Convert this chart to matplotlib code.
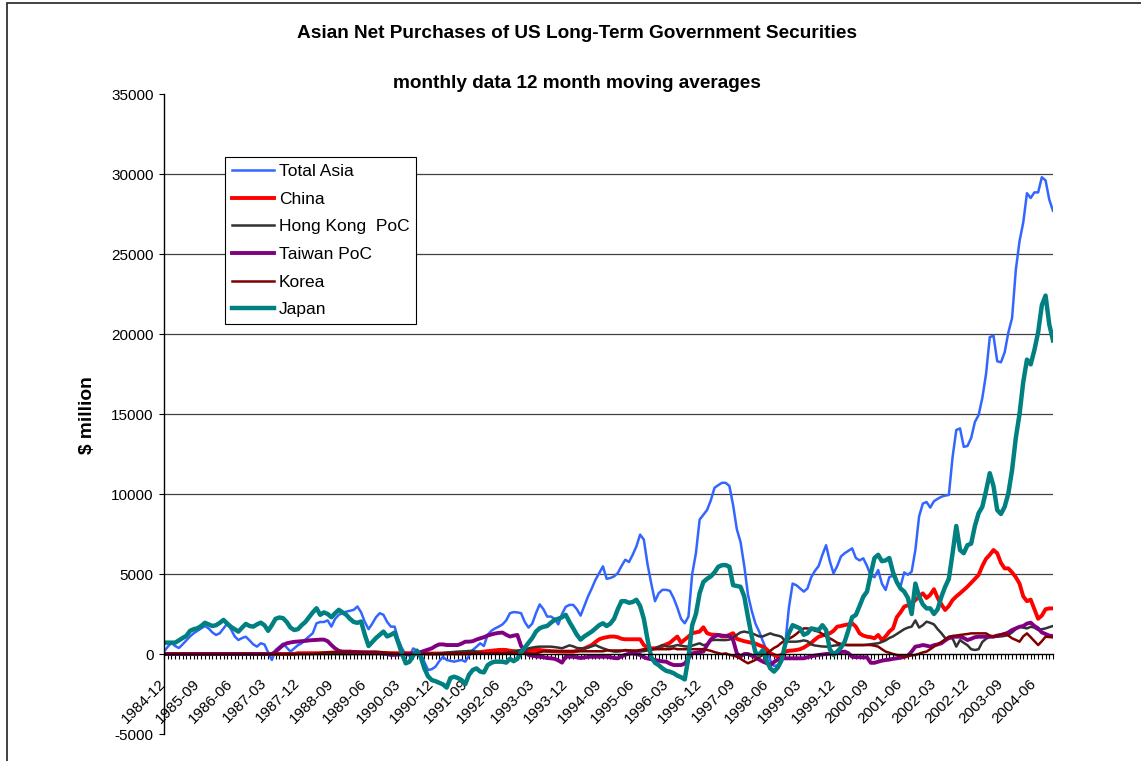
import numpy as np
import pandas as pd
import matplotlib
matplotlib.use("Agg")
import matplotlib.pyplot as plt
from matplotlib.patches import Rectangle

plt.rcParams['font.family'] = ['Liberation Sans', 'DejaVu Sans']

# monthly categories, 1984-12 .. 2004-11
months = [p.strftime('%Y-%m') for p in pd.period_range('1984-12', periods=240, freq='M')]

# 12 month moving averages, $ million (one row = 12 months starting in December)
total_asia = [
    150, 450, 690, 500, 375, 600, 850, 1100, 1300, 1450, 1600, 1750,
    1600, 1350, 1190, 1300, 1600, 1900, 1550, 1100, 875, 1000, 1080, 850,
    600, 460, 670, 600, 100, -375, 250, 450, 650, 400, 150, 350,
    550, 670, 900, 1100, 1300, 1920, 2000, 2000, 2100, 1710, 2200, 2450,
    2550, 2650, 2700, 2760, 2970, 2600, 2000, 1550, 1900, 2300, 2550, 2450,
    2000, 1710, 1710, 900, 350, -50, -100, 350, 200, 40, -500, -1000,
    -950, -790, -450, -170, -375, -430, -480, -420, -375, -480, -100, 250,
    450, 670, 500, 1200, 1450, 1600, 1710, 1850, 2100, 2550, 2620, 2600,
    2550, 2000, 1650, 1900, 2550, 3100, 2800, 2340, 2340, 2200, 1850, 2500,
    2950, 3070, 3070, 2800, 2400, 3000, 3600, 4100, 4640, 5050, 5480, 4700,
    4750, 4850, 5060, 5500, 5890, 5750, 6200, 6730, 7460, 7150, 5600, 4400,
    3300, 3800, 4010, 4010, 3950, 3500, 2900, 2200, 1920, 2340, 5000, 6300,
    8400, 8700, 9000, 9600, 10390, 10550, 10700, 10700, 10500, 9300, 7800, 7000,
    5500, 3700, 2700, 1900, 1400, 800, 250, -400, -750, -700, -370, 600,
    2900, 4400, 4300, 4100, 3900, 4100, 4800, 5200, 5500, 6200, 6800, 5800,
    5040, 5500, 6100, 6300, 6450, 6600, 6000, 5850, 5980, 5500, 4900, 4800,
    5250, 4400, 4000, 4800, 4900, 4500, 4210, 5100, 4950, 5150, 6500, 8600,
    9400, 9500, 9150, 9550, 9700, 9830, 9900, 9940, 12300, 14000, 14100, 12950,
    13000, 13500, 14500, 14930, 16000, 17500, 19800, 19900, 18300, 18230, 18850, 20100,
    21000, 24000, 25800, 26970, 28800, 28500, 28850, 28850, 29800, 29600, 28400, 27700,
]

china = [
    0, 0, 0, 0, 0, 0, 0, 0, 0, 0, 0, 0,
    0, 0, 0, 0, 0, 0, 0, 0, 0, 0, 0, 0,
    0, 0, 0, 0, 0, 0, 0, 0, 0, 0, 0, 0,
    50, 50, 50, 50, 50, 50, 50, 50, 50, 50, 50, 50,
    50, 50, 50, 50, 50, 50, 50, 50, 50, 50, 50, 50,
    50, 50, 50, 50, 50, 50, 50, 50, 50, 50, 50, 30,
    30, 30, 30, 30, 30, 30, 30, 30, 30, 30, 30, 60,
    100, 120, 150, 180, 200, 230, 250, 260, 250, 200, 180, 160,
    150, 180, 220, 250, 250, 250, 220, 200, 180, 170, 160, 150,
    150, 150, 150, 200, 250, 350, 450, 560, 750, 920, 1000, 1050,
    1090, 1090, 1050, 950, 920, 920, 920, 920, 920, 560, 400, 355,
    355, 400, 500, 600, 700, 900, 1090, 700, 900, 1090, 1300, 1350,
    1400, 1670, 1300, 1220, 1200, 1190, 1100, 1100, 1200, 1300, 950, 870,
    800, 750, 700, 650, 550, 460, 300, 50, -60, -170, -50, 150,
    200, 220, 250, 300, 400, 550, 700, 900, 1080, 1150, 1250, 1290,
    1450, 1710, 1750, 1810, 1850, 1920, 1710, 1290, 1150, 1080, 1050, 980,
    1190, 870, 1100, 1400, 1600, 2300, 2600, 2960, 3050, 3170, 3370, 3600,
    3790, 3500, 3700, 4050, 3500, 3100, 2750, 3000, 3370, 3600, 3790, 4000,
    4210, 4450, 4700, 4940, 5500, 5950, 6200, 6500, 6300, 5700, 5350, 5350,
    5100, 4800, 4400, 3600, 3300, 3400, 2800, 2200, 2400, 2800, 2850, 2850,
]

hong_kong = [
    0, 0, 0, 0, 0, 0, 0, 0, 0, 0, 0, 0,
    0, 0, 0, 0, 0, 0, 0, 0, 0, 0, 0, 0,
    0, 0, 0, 0, 0, 0, 0, 0, 0, 0, 0, 0,
    0, 0, 0, 0, 0, 0, 0, 0, 0, 0, 0, 0,
    0, 0, 0, 0, 0, 0, 0, 0, 0, 0, 0, 0,
    0, 20, 20, 20, 20, 20, 20, 20, 20, 20, 20, 20,
    20, 20, 40, 60, 90, 110, 130, 150, 160, 170, 190, 200,
    150, 100, 50, 40, 50, 60, 70, 80, 80, 110, 150, 200,
    250, 300, 355, 400, 440, 460, 460, 460, 460, 430, 400, 355,
    450, 540, 480, 380, 355, 355, 400, 480, 560, 450, 355, 280,
    200, 150, 150, 180, 250, 220, 180, 160, 150, 180, 220, 250,
    350, 450, 560, 480, 460, 500, 560, 520, 480, 460, 520, 600,
    670, 550, 600, 850, 880, 880, 870, 870, 900, 1050, 1200, 1350,
    1400, 1350, 1300, 1200, 1100, 1100, 1200, 1290, 1200, 1150, 1080, 800,
    770, 770, 770, 800, 850, 800, 600, 530, 500, 470, 460, 480,
    520, 550, 560, 560, 560, 560, 560, 560, 560, 580, 610, 640,
    670, 750, 850, 1000, 1100, 1250, 1400, 1550, 1650, 1710, 2100, 1650,
    1800, 2020, 1950, 1850, 1550, 1300, 1000, 980, 980, 460, 870, 700,
    550, 300, 250, 300, 750, 950, 1080, 1080, 1080, 1100, 1130, 1190,
    1350, 1550, 1710, 1650, 1600, 1700, 1650, 1500, 1550, 1600, 1680, 1750,
]

taiwan = [
    0, 0, 0, 0, 0, 0, 0, 0, 0, 0, 0, 0,
    0, 0, 0, 0, 0, 0, 0, 0, 0, 0, 0, 0,
    0, 0, 0, 0, 0, 0, 150, 350, 550, 670, 720, 760,
    780, 800, 820, 850, 870, 880, 900, 900, 800, 560, 350, 200,
    150, 150, 150, 130, 120, 110, 100, 100, 100, 100, 60, 30,
    0, -60, -50, -30, -20, 0, 0, 0, 50, 120, 200, 280,
    355, 500, 600, 600, 560, 560, 560, 560, 650, 770, 770, 800,
    900, 980, 1050, 1150, 1220, 1280, 1320, 1340, 1200, 1090, 1150, 1190,
    500, 200, -60, -100, -150, -170, -200, -250, -270, -300, -400, -540,
    -170, -170, -170, -200, -250, -220, -180, -170, -170, -170, -170, -170,
    -200, -250, -270, -150, -50, 20, 40, 0, -60, -200, -280, -330,
    -375, -420, -460, -480, -600, -690, -690, -690, -600, -270, 40, 80,
    120, 150, 560, 900, 1100, 1190, 1150, 1130, 1120, 880, 40, -150,
    0, 0, -100, -200, -350, -480, -570, -690, -500, -350, -270, -270,
    -270, -270, -270, -270, -270, -200, -150, -100, -60, -30, 0, 20,
    40, 80, 120, 150, 50, -170, -200, -200, -210, -210, -550, -550,
    -480, -420, -375, -350, -300, -270, -230, -190, -100, 150, 460, 500,
    560, 520, 460, 550, 600, 670, 850, 1000, 1080, 1080, 1080, 1000,
    870, 950, 1050, 1080, 1080, 1080, 1080, 1080, 1150, 1190, 1250, 1350,
    1500, 1600, 1700, 1750, 1900, 1960, 1750, 1600, 1350, 1250, 1150, 1120,
]

korea = [
    0, 0, 0, 0, 0, 0, 0, 0, 0, 0, 0, 0,
    0, 0, 0, 0, 0, 0, 0, 0, 0, 0, 0, 0,
    0, 0, 0, 0, 0, 0, 0, 0, 0, 0, 0, 0,
    0, 0, 0, 0, 0, 30, 60, 90, 110, 130, 130, 130,
    130, 130, 130, 130, 130, 130, 130, 130, 130, 130, 130, 110,
    80, 50, 30, 0, 0, 0, 0, 0, 0, 0, 0, 0,
    0, 0, 0, 0, 40, 40, 40, 40, 40, 40, 40, 40,
    40, 40, 40, 40, 40, 40, 40, 40, 40, 40, 40, 40,
    40, 40, 40, 40, 40, 100, 170, 170, 170, 170, 170, 170,
    170, 170, 170, 170, 170, 170, 170, 170, 170, 170, 170, 220,
    220, 220, 220, 220, 220, 220, 220, 220, 250, 300, 300, 300,
    300, 300, 300, 300, 300, 355, 300, 300, 300, 300, 300, 300,
    300, 300, 250, 200, 120, 60, 0, 40, -50, -100, -170, -300,
    -450, -580, -480, -370, -200, -50, 40, 200, 380, 500, 700, 850,
    950, 1080, 1250, 1450, 1600, 1600, 1550, 1450, 1400, 1250, 1100, 980,
    850, 700, 630, 580, 560, 560, 560, 560, 560, 560, 560, 520,
    460, 300, 150, 80, 0, -60, -120, -170, -130, -90, -60, 20,
    100, 150, 300, 460, 600, 750, 900, 1080, 1120, 1150, 1190, 1220,
    1250, 1290, 1290, 1290, 1290, 1290, 1150, 1080, 1150, 1220, 1290, 1150,
    980, 880, 770, 1100, 1290, 1050, 800, 560, 800, 1080, 1060, 1040,
]

japan = [
    710, 710, 710, 710, 850, 1000, 1130, 1450, 1550, 1610, 1750, 1950,
    1850, 1750, 1800, 1950, 2130, 1900, 1700, 1550, 1400, 1650, 1880, 1750,
    1710, 1850, 1960, 1800, 1450, 1800, 2200, 2280, 2240, 2000, 1650, 1500,
    1550, 1800, 2000, 2300, 2600, 2860, 2450, 2600, 2500, 2300, 2550, 2760,
    2600, 2450, 2200, 2000, 1950, 2030, 1200, 500, 750, 1000, 1200, 1400,
    1100, 1200, 1340, 700, 0, -585, -480, -100, 210, -170, -900, -1400,
    -1630, -1700, -1800, -1900, -2100, -1500, -1420, -1500, -1630, -1880, -1300, -1000,
    -900, -1100, -1150, -700, -550, -480, -480, -480, -540, -300, -450, -300,
    100, 400, 700, 1000, 1400, 1610, 1700, 1750, 1950, 2130, 2200, 2300,
    2450, 2000, 1610, 1200, 900, 1100, 1250, 1400, 1600, 1800, 1920, 1750,
    1900, 2200, 2800, 3300, 3300, 3200, 3250, 3390, 3000, 2200, 900, -200,
    -550, -700, -900, -1050, -1110, -1200, -1350, -1450, -1590, -200, 1800, 2500,
    3800, 4500, 4700, 4850, 5100, 5450, 5550, 5560, 5450, 4300, 4250, 4200,
    3600, 2300, 1100, 100, -50, 250, -400, -900, -1100, -850, -400, 600,
    1300, 1800, 1700, 1600, 1200, 1300, 1600, 1550, 1500, 1800, 1500, 300,
    -60, 150, 400, 770, 1500, 2300, 2440, 3000, 3580, 3900, 5000, 6000,
    6200, 5800, 5850, 6000, 5100, 4500, 4100, 3900, 3500, 2500, 4400, 3600,
    3100, 2850, 2850, 2500, 2800, 3580, 4200, 4700, 6290, 8000, 6500, 6300,
    6800, 6900, 8000, 8800, 9200, 10200, 11300, 10500, 9000, 8750, 9200, 10040,
    11500, 13500, 15000, 17000, 18400, 18100, 19000, 20100, 21800, 22400, 20600, 19600,
]

series = [
    ("Total Asia", total_asia, "#3366FF", 1.8),
    ("China", china, "#FF0000", 2.8),
    ("Hong Kong  PoC", hong_kong, "#333333", 1.8),
    ("Taiwan PoC", taiwan, "#800080", 2.8),
    ("Korea", korea, "#800000", 1.8),
    ("Japan", japan, "#008080", 3.2),
]

W, H = 1141, 761
fig = plt.figure(figsize=(W / 100, H / 100), dpi=100)
ax = fig.add_axes([164 / W, 1 - 734 / H, (1053 - 164) / W, (734 - 94) / H])

x = np.arange(len(months))
for name, vals, col, lw in series:
    ax.plot(x, vals, color=col, lw=lw, label=name, solid_joinstyle='round')

ax.set_xlim(0, len(months) - 1)
ax.set_ylim(-5000, 35000)
yt = list(range(-5000, 35001, 5000))
ax.set_yticks(yt)
ax.set_yticklabels([str(v) for v in yt], fontsize=11)
for v in yt:
    if 0 < v < 35000:
        ax.axhline(v, color='#404040', lw=0.9, zorder=0)

ax.spines['top'].set_visible(False)
ax.spines['right'].set_visible(False)
ax.spines['bottom'].set_position(('data', 0))
ax.spines['left'].set_linewidth(1.0)
ax.spines['bottom'].set_linewidth(1.0)

ax.set_xticks(x[::9])
ax.set_xticks(x, minor=True)
ax.set_xticklabels(months[::9], rotation=45, ha='right', va='center',
                   rotation_mode='anchor', fontsize=11)
ax.tick_params(axis='x', which='both', direction='out', length=3.5, width=0.8, pad=16)
ax.tick_params(axis='y', direction='out', length=3.5, width=0.8, pad=4)

ax.legend(loc='upper left', bbox_to_anchor=(225 / W, 1 - 157 / H),
          bbox_transform=fig.transFigure, fontsize=12.5, frameon=True,
          fancybox=False, edgecolor='black', framealpha=1, borderaxespad=0,
          handlelength=2.4, handletextpad=0.3, labelspacing=0.72, borderpad=0.4)
ax.get_legend().get_frame().set_linewidth(0.8)

fig.text(577 / W, 1 - 33 / H, "Asian Net Purchases of US Long-Term Government Securities",
         ha='center', va='center', fontsize=13.7, fontweight='bold')
fig.text(577 / W, 1 - 83 / H, "monthly data 12 month moving averages",
         ha='center', va='center', fontsize=13.7, fontweight='bold')
fig.text(88 / W, 1 - 415 / H, "$ million", rotation=90, ha='center', va='center',
         fontsize=13.8, fontweight='bold')

# outer chart frame (extends past the right and bottom edges)
fig.add_artist(Rectangle((7 / W, -0.5), 2.0, 1.5 - 3 / H, transform=fig.transFigure,
                         fill=False, edgecolor='#333333', lw=1.3, clip_on=False))

fig.savefig("out.png", dpi=100)
